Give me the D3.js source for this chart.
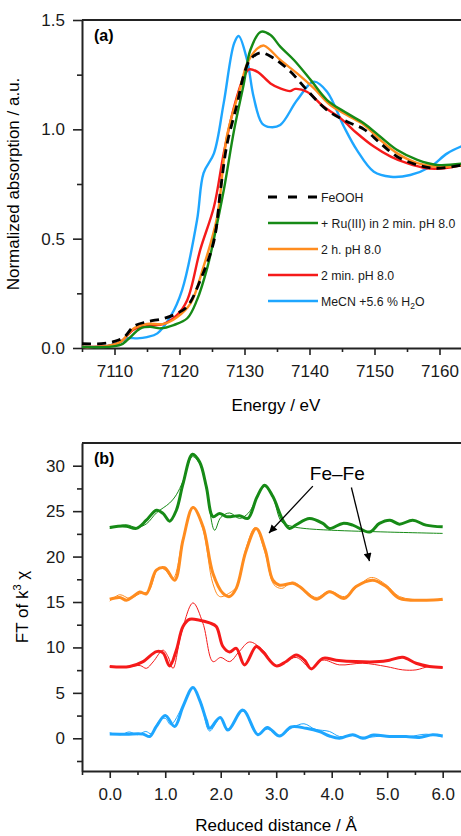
<!DOCTYPE html>
<html>
<head>
<meta charset="utf-8">
<script src="https://cdn.jsdelivr.net/npm/d3@7"></script>
<style>
  body { margin: 0; background: #fff; }
  svg { display: block; font-family: "Liberation Sans", Arial, sans-serif; }
</style>
</head>
<body>
<svg id="chart" width="461" height="836"></svg>
<script>
// ---- panel (a): XANES, [energy eV, normalized absorption]
const feOOH = [[7105,0.02],[7108,0.02],[7110,0.03],[7111.5,0.05],[7113,0.10],[7115,0.12],[7117.6,0.135],[7119.6,0.158],[7121.2,0.19],[7123.2,0.31],[7125.3,0.49],[7126.3,0.72],[7127.3,0.93],[7128.9,1.12],[7129.9,1.25],[7130.9,1.32],[7132.5,1.35],[7134.5,1.325],[7137.1,1.263],[7139.6,1.18],[7142.7,1.088],[7145.8,1.035],[7148.4,1.0],[7150.9,0.936],[7153.5,0.875],[7156.6,0.837],[7159.6,0.822],[7164,0.84]];
const ruPH8 = [[7105,0.005],[7109,0.005],[7111,0.015],[7112,0.037],[7114,0.09],[7115.5,0.097],[7117.1,0.09],[7119.1,0.105],[7121.2,0.136],[7122.7,0.22],[7124.3,0.37],[7125.3,0.50],[7126.8,0.72],[7128.4,0.997],[7129.9,1.21],[7130.9,1.363],[7132.5,1.446],[7134,1.431],[7135.5,1.378],[7137.6,1.317],[7140.2,1.225],[7142.7,1.134],[7145.8,1.073],[7148.4,1.027],[7150.9,0.966],[7153.5,0.905],[7156.6,0.86],[7159.6,0.837],[7164,0.845]];
const twoHourPH8 = [[7105,0.005],[7109,0.01],[7111,0.03],[7113,0.09],[7115,0.11],[7117.6,0.11],[7119.6,0.14],[7121.7,0.204],[7123.7,0.372],[7125.8,0.60],[7127.3,0.97],[7129.4,1.195],[7130.4,1.30],[7132,1.37],[7133,1.383],[7135.5,1.317],[7138.1,1.256],[7140.7,1.187],[7143.2,1.111],[7145.8,1.065],[7148.4,1.02],[7150.9,0.951],[7153.5,0.89],[7156.6,0.845],[7159.6,0.829],[7164,0.837]];
const twoMinPH8 = [[7105,0.005],[7109,0.01],[7111,0.03],[7113,0.085],[7115,0.10],[7117.6,0.11],[7119.6,0.15],[7121.2,0.22],[7123.2,0.45],[7125.3,0.646],[7126.8,0.89],[7128.4,1.103],[7129.9,1.24],[7130.7,1.274],[7132,1.263],[7134,1.21],[7135.5,1.187],[7137,1.175],[7137.8,1.185],[7139.6,1.172],[7142.2,1.103],[7144.8,1.05],[7147.3,0.982],[7149.9,0.921],[7152.5,0.875],[7155,0.845],[7158,0.822],[7160.7,0.822],[7164,0.84]];
const meCN = [[7105,0.005],[7109,0.01],[7111,0.03],[7112,0.045],[7113.5,0.044],[7115,0.05],[7116.6,0.067],[7118.6,0.143],[7120.4,0.265],[7122.7,0.585],[7123.7,0.80],[7125.3,0.89],[7126.8,1.12],[7128.4,1.393],[7129.1,1.427],[7130.4,1.317],[7131.4,1.149],[7132.7,1.027],[7134,1.01],[7135.5,1.02],[7138.1,1.134],[7140.7,1.218],[7142.7,1.172],[7145.3,1.012],[7147.3,0.905],[7149.9,0.806],[7152.5,0.783],[7155.5,0.791],[7158.6,0.829],[7161.2,0.89],[7164,0.93]];

const energyTicks = [7110, 7120, 7130, 7140, 7150, 7160];
const absTicks = [0, 0.5, 1.0, 1.5];
const legendLabels = ['FeOOH', '+ Ru(III) in 2 min. pH 8.0', '2 h. pH 8.0', '2 min. pH 8.0', 'MeCN +5.6 % H'];

// ---- panel (b): FT of k3 chi, [reduced distance A, magnitude]; thick = data, thin = fit
const ruData = [[0,23.2],[0.15,23.35],[0.3,23.35],[0.48,23.1],[0.66,24.0],[0.84,25.1],[0.96,24.75],[1.08,23.9],[1.2,25.1],[1.32,28.0],[1.49,31.26],[1.62,30.4],[1.74,27.7],[1.86,24.4],[1.98,24.75],[2.1,24.4],[2.2,24.4],[2.34,24.5],[2.49,24.2],[2.65,26.5],[2.79,27.86],[2.94,26.6],[3.12,24.0],[3.24,23.1],[3.36,23.5],[3.6,24.2],[3.84,23.65],[3.96,23.1],[4.2,23.65],[4.38,23.46],[4.68,22.7],[4.86,23.65],[5.05,24.0],[5.22,23.57],[5.46,24.0],[5.7,23.46],[6,23.27]];
const ruFit = [[0,23.1],[0.3,23.5],[0.48,23.2],[0.66,23.6],[0.84,24.8],[1.08,25.9],[1.2,26.8],[1.32,28.3],[1.49,31.0],[1.62,30.2],[1.74,27.5],[1.89,22.9],[2.0,24.3],[2.16,24.8],[2.34,24.2],[2.5,24.8],[2.79,27.7],[2.94,26.5],[3.1,23.8],[3.3,23.3],[3.5,23.1],[4,22.9],[5,22.7],[6,22.55]];
const twoHourData = [[0,15.3],[0.18,15.5],[0.3,15.2],[0.42,15.6],[0.54,16.1],[0.66,15.9],[0.84,18.5],[0.99,18.77],[1.17,17.4],[1.32,21.8],[1.5,25.4],[1.68,23.3],[1.86,18.15],[2.04,15.96],[2.16,15.6],[2.28,16.5],[2.45,20.5],[2.64,23.1],[2.8,20.8],[2.94,17.4],[3.06,16.85],[3.3,17.05],[3.42,16.7],[3.72,15.3],[3.96,16.13],[4.23,15.4],[4.44,16.7],[4.74,17.4],[4.98,16.7],[5.22,15.4],[5.7,15.2],[6,15.3]];
const twoHourFit = [[0,15.1],[0.18,15.8],[0.36,15.4],[0.54,15.9],[0.7,16.2],[0.88,18.8],[1.0,18.5],[1.14,17.6],[1.32,22.0],[1.5,25.5],[1.68,23.0],[1.86,17.0],[1.98,15.6],[2.16,16.0],[2.3,16.8],[2.45,20.8],[2.62,23.2],[2.8,20.4],[2.96,16.9],[3.1,16.5],[3.3,17.2],[3.5,16.4],[3.72,15.5],[3.96,16.2],[4.23,15.6],[4.5,16.9],[4.72,17.7],[4.98,16.9],[5.22,15.6],[5.7,15.2],[6,15.2]];
const twoMinData = [[0,7.9],[0.36,7.9],[0.6,8.44],[0.84,9.54],[0.96,9.4],[1.08,7.97],[1.2,9.7],[1.32,12.3],[1.44,13.1],[1.62,13.0],[1.8,12.7],[1.92,12.3],[2.04,10.1],[2.16,9.5],[2.28,9.9],[2.43,8.08],[2.64,10.1],[2.76,9.5],[3.0,7.97],[3.18,8.45],[3.36,9.18],[3.51,8.6],[3.63,7.64],[3.84,8.8],[4.08,8.6],[4.44,8.44],[4.86,8.44],[5.04,8.6],[5.28,8.92],[5.52,8.26],[5.76,7.9],[6,7.8]];
const twoMinFit = [[0,7.9],[0.36,7.9],[0.55,8.0],[0.66,7.7],[0.78,8.4],[0.96,9.7],[1.05,9.0],[1.14,7.7],[1.29,11.56],[1.5,14.9],[1.68,12.65],[1.86,8.44],[2.0,8.9],[2.16,8.44],[2.34,9.6],[2.52,10.6],[2.76,9.7],[3.0,8.0],[3.36,8.9],[3.63,7.7],[3.84,8.6],[4.14,8.08],[4.56,8.26],[4.98,7.9],[5.28,7.53],[5.52,7.53],[5.76,7.9],[6,7.8]];
const meCNData = [[0,0.46],[0.3,0.45],[0.6,0.46],[0.72,0.2],[0.84,1.3],[1.0,2.5],[1.17,1.3],[1.32,3.5],[1.5,5.6],[1.62,4.2],[1.74,2.0],[1.8,1.1],[1.99,2.3],[2.13,0.9],[2.4,3.1],[2.67,0.4],[2.84,1.2],[3.06,0.25],[3.27,1.25],[3.54,1.1],[3.78,0.75],[3.96,0.25],[4.14,0.0],[4.38,0.4],[4.56,0.0],[4.75,0.35],[5.04,0.2],[5.34,0.2],[5.58,0.1],[5.82,0.4],[6,0.25]];
const meCNFit = [[0,0.6],[0.2,0.4],[0.35,0.7],[0.5,0.4],[0.65,0.75],[0.75,0.5],[0.9,2.0],[1.0,2.2],[1.1,1.5],[1.32,3.6],[1.5,5.5],[1.64,4.0],[1.8,0.8],[1.99,2.2],[2.13,1.0],[2.4,3.0],[2.65,0.5],[2.84,1.0],[3.06,0.3],[3.3,1.2],[3.5,1.6],[3.7,1.0],[3.96,0.75],[4.14,0.2],[4.38,0.3],[4.6,0.1],[5.0,0.3],[5.4,0.2],[5.7,0.45],[6,0.15]];

const distTicks = [0, 1, 2, 3, 4, 5, 6];
const ftTicks = [0, 5, 10, 15, 20, 25, 30];
// Fe-Fe annotation: label point and arrow tips, in data units
const feFeLabel = [4.1, 28.4];
const feFeArrows = [[[3.66, 27.75], [2.87, 22.6]], [[4.355, 27.6], [4.68, 19.5]]];

const colors = { black: '#000', green: '#168a16', orange: '#ff8c1f', red: '#f51a1a', blue: '#1ea6ff' };

const svg = d3.select('#chart');

svg.append('defs').append('marker')
  .attr('id', 'head')
  .attr('viewBox', '0 0 10 10')
  .attr('refX', 10).attr('refY', 5)
  .attr('markerWidth', 11).attr('markerHeight', 8)
  .attr('markerUnits', 'userSpaceOnUse')
  .attr('orient', 'auto')
  .append('path').attr('d', 'M0,0L10,5L0,10Z').attr('fill', '#000');

function styleAxis(g) {
  g.select('.domain').attr('stroke', '#222').attr('stroke-width', 2);
  g.selectAll('.tick line').attr('stroke', '#222').attr('stroke-width', 1.6);
  g.selectAll('.tick text').attr('font-size', 17).attr('fill', '#1a1a1a');
}

function minorAxis(g) {
  g.select('.domain').remove();
  g.selectAll('.tick line').attr('stroke', '#222').attr('stroke-width', 1.6);
  g.selectAll('.tick text').remove();
}

function frame(x, top) {
  svg.append('line')
    .attr('x1', x.range()[0]).attr('x2', 461)
    .attr('y1', top).attr('y2', top)
    .attr('stroke', '#222').attr('stroke-width', 2);
}

// ===== panel (a)
const xA = d3.scaleLinear().domain([7105, 7163.4]).range([82, 461.6]);
const yA = d3.scaleLinear().domain([0, 1.5]).range([348, 20]);

svg.append('g').attr('transform', 'translate(0,348)')
  .call(d3.axisBottom(xA).tickValues(d3.range(7105, 7165, 10)).tickSize(4).tickSizeOuter(0))
  .call(minorAxis);
svg.append('g').attr('transform', 'translate(0,348)')
  .call(d3.axisBottom(xA).tickValues(energyTicks).tickSize(7).tickPadding(10).tickSizeOuter(0).tickFormat(d3.format('d')))
  .call(styleAxis);
svg.append('g').attr('transform', 'translate(82,0)')
  .call(d3.axisLeft(yA).tickValues([0.25, 0.75, 1.25]).tickSize(5))
  .call(minorAxis);
svg.append('g').attr('transform', 'translate(82,0)')
  .call(d3.axisLeft(yA).tickValues(absTicks).tickSize(9).tickPadding(8).tickSizeOuter(0).tickFormat(d3.format('.1f')))
  .call(styleAxis);
frame(xA, 20);

const lineA = d3.line().x(d => xA(d[0])).y(d => yA(d[1])).curve(d3.curveCatmullRom.alpha(0.5));
const seriesA = [
  { data: meCN, color: colors.blue },
  { data: twoMinPH8, color: colors.red },
  { data: twoHourPH8, color: colors.orange },
  { data: ruPH8, color: colors.green },
  { data: feOOH, color: colors.black, dash: '9,6' }
];
svg.append('g').selectAll('path').data(seriesA).join('path')
  .attr('d', s => lineA(s.data))
  .attr('fill', 'none')
  .attr('stroke', s => s.color)
  .attr('stroke-width', s => s.dash ? 2.8 : 2.4)
  .attr('stroke-dasharray', s => s.dash || null);

// legend
const legendColors = [colors.black, colors.green, colors.orange, colors.red, colors.blue];
const legend = svg.append('g').attr('font-size', 12.3);
legendLabels.forEach((label, i) => {
  const y = 197 + i * 26;
  legend.append('line')
    .attr('x1', 268).attr('x2', 318).attr('y1', y).attr('y2', y)
    .attr('stroke', legendColors[i]).attr('stroke-width', i === 0 ? 2.8 : 2.4)
    .attr('stroke-dasharray', i === 0 ? '9,11' : null);
  const t = legend.append('text').attr('x', 321).attr('y', y + 4.5).attr('fill', '#1a1a1a').text(label);
  if (i === 4) {
    t.append('tspan').attr('font-size', 8.5).attr('dy', 3).text('2');
    t.append('tspan').attr('dy', -3).text('O');
  }
});

svg.append('text').attr('x', 94).attr('y', 41).attr('font-size', 16).attr('font-weight', 'bold').text('(a)');
svg.append('text').attr('x', 276).attr('y', 411).attr('text-anchor', 'middle').attr('font-size', 17).text('Energy / eV');
svg.append('text').attr('transform', 'translate(19,184) rotate(-90)')
  .attr('text-anchor', 'middle').attr('font-size', 17).text('Normalized absorption / a.u.');

// ===== panel (b)
const xB = d3.scaleLinear().domain([-0.5, 6.33]).range([82, 461]);
const yB = d3.scaleLinear().domain([-3.6, 32.5]).range([771, 443]);

svg.append('g').attr('transform', 'translate(0,771)')
  .call(d3.axisBottom(xB).tickValues(d3.range(-0.5, 6.3, 1)).tickSize(4))
  .call(minorAxis);
svg.append('g').attr('transform', 'translate(0,771)')
  .call(d3.axisBottom(xB).tickValues(distTicks).tickSize(7).tickPadding(10).tickSizeOuter(0))
  .call(styleAxis);
svg.append('g').attr('transform', 'translate(82,0)')
  .call(d3.axisLeft(yB).tickValues(d3.range(-2.5, 30, 5)).tickSize(5))
  .call(minorAxis);
svg.append('g').attr('transform', 'translate(82,0)')
  .call(d3.axisLeft(yB).tickValues(ftTicks).tickSize(9).tickPadding(8).tickSizeOuter(0))
  .call(styleAxis);
frame(xB, 443);

const lineB = d3.line().x(d => xB(d[0])).y(d => yB(d[1])).curve(d3.curveCatmullRom.alpha(0.5));
const seriesB = [
  { data: meCNFit, color: colors.blue, w: 1 }, { data: meCNData, color: colors.blue, w: 3 },
  { data: twoMinFit, color: colors.red, w: 1 }, { data: twoMinData, color: colors.red, w: 3 },
  { data: twoHourFit, color: colors.orange, w: 1 }, { data: twoHourData, color: colors.orange, w: 3 },
  { data: ruFit, color: colors.green, w: 1 }, { data: ruData, color: colors.green, w: 3 }
];
svg.append('g').selectAll('path').data(seriesB).join('path')
  .attr('d', s => lineB(s.data))
  .attr('fill', 'none')
  .attr('stroke', s => s.color)
  .attr('stroke-width', s => s.w);

svg.append('text').attr('x', xB(feFeLabel[0])).attr('y', yB(feFeLabel[1]))
  .attr('text-anchor', 'middle').attr('font-size', 19).text('Fe\u2013Fe');
feFeArrows.forEach(a => {
  svg.append('line')
    .attr('x1', xB(a[0][0])).attr('y1', yB(a[0][1]))
    .attr('x2', xB(a[1][0])).attr('y2', yB(a[1][1]))
    .attr('stroke', '#000').attr('stroke-width', 1.3)
    .attr('marker-end', 'url(#head)');
});

svg.append('text').attr('x', 94).attr('y', 464).attr('font-size', 16).attr('font-weight', 'bold').text('(b)');
svg.append('text').attr('x', 276).attr('y', 831).attr('text-anchor', 'middle').attr('font-size', 17).text('Reduced distance / \u00c5');
const yLabB = svg.append('text').attr('transform', 'translate(28,607) rotate(-90)')
  .attr('text-anchor', 'middle').attr('font-size', 17).text('FT of k');
yLabB.append('tspan').attr('font-size', 11).attr('dy', -7).text('3');
yLabB.append('tspan').attr('dy', 7).text(' \u03c7');
</script>
</body>
</html>
